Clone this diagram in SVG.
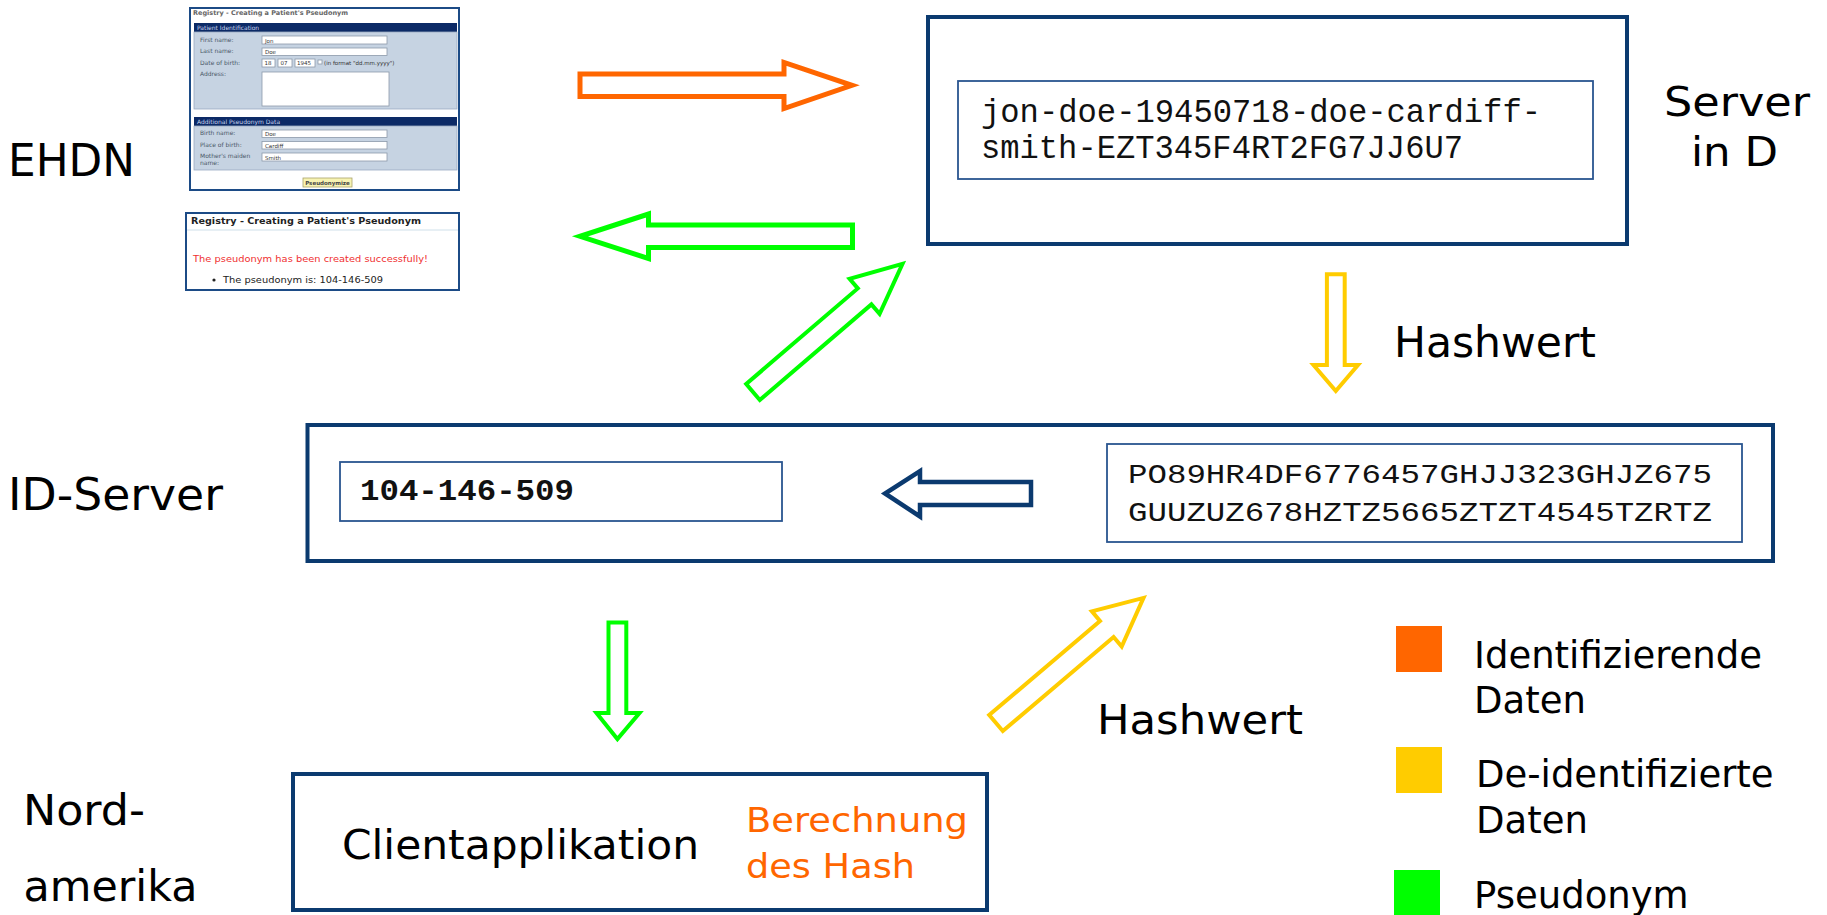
<svg xmlns="http://www.w3.org/2000/svg" width="1827" height="915" viewBox="0 0 1827 915">
<style>
  .sans { font-family: "DejaVu Sans", Verdana, sans-serif; fill: #000; }
  .mono { font-family: "Liberation Mono", "Courier New", monospace; fill: #111; }
  .box { fill: #fff; stroke: #0b3a6f; stroke-width: 4; }
  .inner { fill: #fff; stroke: #2a5590; stroke-width: 1.8; }
  .ss { font-family: "DejaVu Sans", Verdana, sans-serif; }
  .sslbl { font-size: 6px; fill: #4a5868; }
  .ssval { font-size: 5.5px; fill: #333; }
  .field { fill: #fff; stroke: #8c99aa; stroke-width: 0.8; }
  .band { fill: #0c2a66; }
  .panel { fill: #c6d3e2; stroke: #9aabc2; stroke-width: 0.8; }
  .bandtxt { font-size: 6px; fill: #c8d4ee; }
  .arr { fill: #fff; stroke-linejoin: miter; stroke-miterlimit: 12; }
  .orange { stroke: #ff6600; }
  .green { stroke: #00ff00; }
  .yellow { stroke: #ffcc00; }
  .navy { stroke: #0b3a6f; }
  .orangetxt { fill: #ff6600; }
</style>

<!-- EHDN screenshots -->
<g id="ehdn-form">
  <rect x="190" y="8" width="269" height="182" fill="#fff" stroke="#1c4b86" stroke-width="2"/>
  <text class="ss" x="193" y="15" font-size="6.5" font-weight="bold" fill="#666">Registry - Creating a Patient's Pseudonym</text>
  <rect class="band" x="194" y="23" width="263" height="9"/>
  <text class="ss bandtxt" x="197" y="30">Patient Identification</text>
  <rect class="panel" x="194" y="32" width="263" height="77"/>
  <text class="ss sslbl" x="200" y="42">First name:</text>
  <text class="ss sslbl" x="200" y="53">Last name:</text>
  <text class="ss sslbl" x="200" y="65">Date of birth:</text>
  <text class="ss sslbl" x="200" y="76">Address:</text>
  <rect class="field" x="262" y="36" width="125" height="8"/>
  <rect class="field" x="262" y="48" width="125" height="7.5"/>
  <rect class="field" x="262" y="59" width="13" height="8"/>
  <rect class="field" x="278" y="59" width="14" height="8"/>
  <rect class="field" x="295" y="59" width="20" height="8"/>
  <rect class="field" x="318" y="60" width="4" height="4"/>
  <rect class="field" x="262" y="72" width="127" height="34"/>
  <text class="ss ssval" x="265" y="42.5">Jon</text>
  <text class="ss ssval" x="265" y="54">Doe</text>
  <text class="ss ssval" x="264.5" y="65">18</text>
  <text class="ss ssval" x="280.5" y="65">07</text>
  <text class="ss ssval" x="297" y="65">1945</text>
  <text class="ss ssval" x="324" y="65">(in format "dd.mm.yyyy")</text>
  <rect class="band" x="194" y="117" width="263" height="9"/>
  <text class="ss bandtxt" x="197" y="124">Additional Pseudonym Data</text>
  <rect class="panel" x="194" y="126" width="263" height="44"/>
  <text class="ss sslbl" x="200" y="135">Birth name:</text>
  <text class="ss sslbl" x="200" y="147">Place of birth:</text>
  <text class="ss sslbl" x="200" y="158">Mother's maiden</text>
  <text class="ss sslbl" x="200" y="165">name:</text>
  <rect class="field" x="262" y="130" width="125" height="7.5"/>
  <rect class="field" x="262" y="141.5" width="125" height="7.5"/>
  <rect class="field" x="262" y="153" width="125" height="8"/>
  <text class="ss ssval" x="265" y="136">Doe</text>
  <text class="ss ssval" x="265" y="147.5">Cardiff</text>
  <text class="ss ssval" x="265" y="159.5">Smith</text>
  <rect x="303" y="178" width="49" height="9" fill="#f7f3b2" stroke="#aaa36a" stroke-width="0.8"/>
  <text class="ss" x="327.5" y="185" font-size="5.5" font-weight="bold" fill="#444" text-anchor="middle">Pseudonymize</text>
</g>

<g id="ehdn-result">
  <rect x="186" y="213" width="273" height="77" fill="#fff" stroke="#1c4b86" stroke-width="2"/>
  <text class="ss" x="191" y="223.5" font-size="9" font-weight="bold" fill="#222" textLength="230" lengthAdjust="spacingAndGlyphs">Registry - Creating a Patient's Pseudonym</text>
  <line x1="187" y1="230" x2="458" y2="230" stroke="#cfe0ea" stroke-width="1"/>
  <text class="ss" x="193" y="262" font-size="9" fill="#f03030" textLength="235" lengthAdjust="spacingAndGlyphs">The pseudonym has been created successfully!</text>
  <circle cx="214" cy="280" r="1.6" fill="#222"/>
  <text class="ss" x="223" y="283" font-size="8.5" fill="#222" textLength="160" lengthAdjust="spacingAndGlyphs">The pseudonym is: 104-146-509</text>
</g>

<!-- Server in D -->
<g id="server-d">
  <rect class="box" x="928" y="17" width="699" height="227"/>
  <rect class="inner" x="958" y="81" width="635" height="98"/>
  <text class="mono" x="981" y="122" font-size="33" textLength="560" lengthAdjust="spacingAndGlyphs">jon-doe-19450718-doe-cardiff-</text>
  <text class="mono" x="981" y="158" font-size="33" textLength="482" lengthAdjust="spacingAndGlyphs">smith-EZT345F4RT2FG7JJ6U7</text>
  <text class="sans" x="1664" y="116" font-size="40" textLength="146" lengthAdjust="spacingAndGlyphs">Server</text>
  <text class="sans" x="1691" y="166" font-size="40" textLength="87" lengthAdjust="spacingAndGlyphs">in D</text>
</g>

<!-- ID-Server -->
<g id="id-server">
  <rect class="box" x="307.5" y="425" width="1465.5" height="136"/>
  <rect class="inner" x="340" y="462" width="442" height="59"/>
  <text class="mono" x="360" y="500" font-size="30" font-weight="bold" textLength="214" lengthAdjust="spacingAndGlyphs">104-146-509</text>
  <rect class="inner" x="1107" y="444" width="635" height="98"/>
  <text class="mono" x="1128" y="483" font-size="27" textLength="584" lengthAdjust="spacingAndGlyphs">PO89HR4DF6776457GHJJ323GHJZ675</text>
  <text class="mono" x="1128" y="521" font-size="27" textLength="584" lengthAdjust="spacingAndGlyphs">GUUZUZ678HZTZ5665ZTZT4545TZRTZ</text>
</g>

<!-- Client -->
<g id="client">
  <rect class="box" x="293" y="774" width="694" height="136"/>
  <text class="sans" x="342" y="859" font-size="40" textLength="357" lengthAdjust="spacingAndGlyphs">Clientapplikation</text>
  <text class="sans orangetxt" x="746" y="832" font-size="34.5" textLength="222" lengthAdjust="spacingAndGlyphs">Berechnung</text>
  <text class="sans orangetxt" x="746" y="878" font-size="34.5" textLength="169" lengthAdjust="spacingAndGlyphs">des Hash</text>
</g>

<!-- Row labels -->
<g id="row-labels">
  <text class="sans" x="8" y="176" font-size="44" textLength="127" lengthAdjust="spacingAndGlyphs">EHDN</text>
  <text class="sans" x="8" y="510" font-size="44" textLength="215" lengthAdjust="spacingAndGlyphs">ID-Server</text>
  <text class="sans" x="23" y="825" font-size="43" textLength="122" lengthAdjust="spacingAndGlyphs">Nord-</text>
  <text class="sans" x="23.5" y="901" font-size="43" textLength="174" lengthAdjust="spacingAndGlyphs">amerika</text>
</g>

<!-- Hash labels -->
<g id="hash-labels">
  <text class="sans" x="1394" y="357" font-size="42" textLength="202" lengthAdjust="spacingAndGlyphs">Hashwert</text>
  <text class="sans" x="1097" y="734" font-size="41" textLength="206" lengthAdjust="spacingAndGlyphs">Hashwert</text>
</g>

<!-- Legend -->
<g id="legend">
  <rect x="1396" y="626" width="46" height="46" fill="#ff6600"/>
  <rect x="1396" y="747" width="46" height="46" fill="#ffcc00"/>
  <rect x="1394" y="870" width="46" height="46" fill="#00ff00"/>
  <text class="sans" x="1474" y="668" font-size="37">Identifizierende</text>
  <text class="sans" x="1474" y="713" font-size="37">Daten</text>
  <text class="sans" x="1476" y="787" font-size="37">De-identifizierte</text>
  <text class="sans" x="1476" y="833" font-size="37">Daten</text>
  <text class="sans" x="1474" y="908" font-size="37">Pseudonym</text>
</g>

<!-- Connectors (block arrows) -->
<g id="connectors">
  <polygon class="arr orange" stroke-width="5" points="580,74 784,74 784,62.5 852,85.3 784,108.5 784,96.5 580,96.5"/>
  <polygon class="arr green" stroke-width="5" points="852.5,225 648.5,225 648.5,214 580,236.3 648.5,258.5 648.5,247.5 852.5,247.5"/>
  <polygon class="arr green" stroke-width="4" points="759.8,400 871.4,304.4 879.6,313.9 902.5,263.9 849.6,278.9 857.8,288.4 746.2,384"/>
  <polygon class="arr yellow" stroke-width="4" points="1326.9,274.3 1344.7,274.3 1344.7,365 1358,365 1335.8,391 1313.5,365 1326.9,365"/>
  <polygon class="arr navy" stroke-width="4.5" points="1031,482 920,482 920,471 885,493.5 920,516.5 920,505 1031,505"/>
  <polygon class="arr green" stroke-width="4" points="608.5,622.5 626.3,622.5 626.3,713 639.5,713 617.4,739 596.5,713 608.5,713"/>
  <polygon class="arr yellow" stroke-width="4" points="1002.8,731 1113.6,637 1121.7,646.6 1143.5,597.9 1091.9,611.4 1100,621 989.2,715"/>
</g>
</svg>
